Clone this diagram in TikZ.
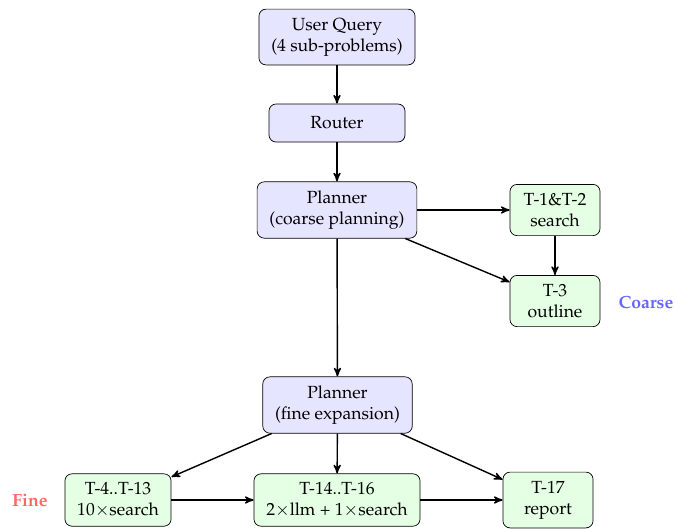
\documentclass[tikz,border=0pt]{standalone}
\usepackage[T1]{fontenc}
\usepackage{mathpazo}
\usepackage{tikz}
\usetikzlibrary{arrows}

\begin{document}
\begin{tikzpicture}[>=stealth', thick]
\tikzstyle{every node}=[align=center, inner xsep=7pt, inner ysep=5pt]
\tikzstyle{plan}=[draw, thin, rounded corners=4pt, fill=blue!10, minimum width=2.72cm, minimum height=0.76cm]
\tikzstyle{task}=[draw, thin, rounded corners=4pt, fill=green!10, minimum width=1.8cm]
\useasboundingbox (0,0) rectangle (13.5,-10.58);
% upper part
\node (uq) [plan] at (6.74,-0.74) {User Query\\(4 sub-problems)};
\node (router) [plan] at (6.74,-2.46) {Router};
\node (pc) [plan] at (6.74,-4.20) {Planner\\(coarse planning)};
\node (t12) [task] at (11.10,-4.20) {T-1\&T-2\\search};
\node (t3) [task] at (11.10,-6.02) {T-3\\outline};
\node (coarse) [text=blue!60] at (12.92,-6.04) {\textbf{Coarse}};
% lower part
\node (pf) [plan] at (6.75,-8.10) {Planner\\(fine expansion)};
\node (t413) [task] at (2.36,-10.0) {T-4..T-13\\10$\times$search};
\node (t1416) [task] at (6.74,-10.0) {T-14..T-16\\2$\times$llm + 1$\times$search};
\node (t17) [task] at (10.96,-10.0) {T-17\\report};
\node (fine) [text=red!60] at (0.60,-10.0) {\textbf{Fine}};
\draw[->] (uq) -- (router);
\draw[->] (router) -- (pc);
\draw[->] (pc) -- (t12);
\draw[->] (pc) -- (t3);
\draw[->] (t12) -- (t3);
\draw[->] (pc) -- (pf);
\draw[->] (pf) -- (t413);
\draw[->] (pf) -- (t1416);
\draw[->] (pf) -- (t17);
\draw[->] (t413) -- (t1416);
\draw[->] (t1416) -- (t17);
\end{tikzpicture}
\end{document}
